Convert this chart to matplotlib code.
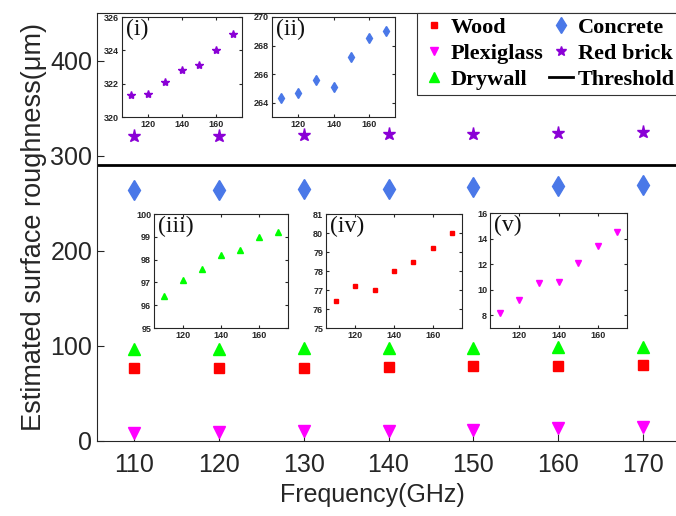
import matplotlib
matplotlib.use("Agg")
import matplotlib.pyplot as plt
import numpy as np

freq = [110, 120, 130, 140, 150, 160, 170]
wood = [76.4, 77.2, 77.0, 78.0, 78.5, 79.2, 80.0]
plexiglass = [8.2, 9.2, 10.5, 10.6, 12.1, 13.4, 14.5]
drywall = [96.4, 97.1, 97.6, 98.2, 98.4, 99.0, 99.2]
concrete = [264.3, 264.7, 265.6, 265.1, 267.2, 268.5, 269.0]
red_brick = [321.3, 321.4, 322.1, 322.8, 323.1, 324.0, 325.0]
threshold = 290

C_WOOD = (1, 0, 0)
C_PLEX = (1, 0, 1)
C_DRY = (0, 1, 0)
C_CON = "#4A78E8"
C_BRICK = "#8A00D6"

plt.rcParams['font.family'] = ['Liberation Sans', 'DejaVu Sans']

fig = plt.figure(figsize=(6.76, 5.16), dpi=100)
W, H = 676, 516

def px_axes(x0, y0, x1, y1):
    return fig.add_axes([x0 / W, (H - y1) / H, (x1 - x0) / W, (y1 - y0) / H])

AX_BOX = (97, 13, 680, 441)
ax = px_axes(*AX_BOX)
ax.set_xlim(105.6, 174.4)
ax.set_ylim(0, 450.5)

h_wood, = ax.plot(freq, wood, 's', color=C_WOOD, ms=6.5, ls='none', label='Wood')
h_plex, = ax.plot(freq, plexiglass, 'v', color=C_PLEX, ms=8.5, ls='none', label='Plexiglass')
h_dry, = ax.plot(freq, drywall, '^', color=C_DRY, ms=9, ls='none', label='Drywall')
h_con, = ax.plot(freq, concrete, 'd', color=C_CON, ms=10.5, ls='none', label='Concrete')
h_brick, = ax.plot(freq, red_brick, '*', color=C_BRICK, ms=9.5, ls='none', label='Red brick')
h_thr = ax.axhline(threshold, color='black', lw=2, label='Threshold')

ax.set_xticks(freq)
ax.set_yticks([0, 100, 200, 300, 400])
ax.tick_params(direction='in', labelsize=18, length=5, colors='#262626', labelcolor='#262626')
ax.tick_params(axis='x', pad=9)
for s in ax.spines.values():
    s.set_color('#262626')
ax.set_xlabel('Frequency(GHz)', fontsize=18, color='#262626')
ax.set_ylabel('Estimated surface roughness(\u03bcm)', fontsize=19.5, color='#262626', labelpad=2)
axw = AX_BOX[2] - AX_BOX[0]
axh = AX_BOX[3] - AX_BOX[1]
ax.xaxis.set_label_coords((372 - AX_BOX[0]) / axw, -(495 - AX_BOX[3]) / axh)
ax.xaxis.label.set_va('center')

leg = fig.legend([h_wood, h_plex, h_dry, h_con, h_brick, h_thr],
                 ['Wood', 'Plexiglass', 'Drywall', 'Concrete', 'Red brick', 'Threshold'],
                 loc='upper left', bbox_to_anchor=(417 / W, (H - 13) / H), ncol=2,
                 borderaxespad=0,
                 prop={'family': 'Liberation Serif', 'weight': 'bold', 'size': 16},
                 fancybox=False, framealpha=1, edgecolor='#333333', borderpad=0.2,
                 labelspacing=0.25, handlelength=1.1, handletextpad=0.2, columnspacing=0.25,
                 markerscale=0.75)
leg.get_frame().set_linewidth(0.8)

insets = [
    ((122, 17, 242, 117), red_brick, '*', C_BRICK, 6, (320, 326), [320, 322, 324, 326], '(i)'),
    ((272, 17, 395, 117), concrete, 'd', C_CON, 5, (263, 270), [264, 266, 268, 270], '(ii)'),
    ((154, 214, 288, 328), drywall, '^', C_DRY, 4.5, (95, 100), [95, 96, 97, 98, 99, 100], '(iii)'),
    ((326, 214, 462, 328), wood, 's', C_WOOD, 3.5, (75, 81), [75, 76, 77, 78, 79, 80, 81], '(iv)'),
    ((490, 213, 627, 328), plexiglass, 'v', C_PLEX, 4.5, (7, 16), [8, 10, 12, 14, 16], '(v)'),
]
for (box, data, m, c, ms, ylim, yt, lab) in insets:
    ia = px_axes(*box)
    ia.plot(freq, data, m, color=c, ms=ms, ls='none')
    ia.set_xlim(105, 175)
    ia.set_ylim(*ylim)
    ia.set_xticks([120, 140, 160])
    ia.set_yticks(yt)
    ia.tick_params(direction='in', labelsize=6.5, length=2.5, top=True, right=True, pad=2,
                   colors='#262626', labelcolor='#262626')
    for t in ia.get_xticklabels() + ia.get_yticklabels():
        t.set_fontweight('bold')
    for s in ia.spines.values():
        s.set_color('#262626')
    ia.text(0.03, 0.98, lab, transform=ia.transAxes, ha='left', va='top',
            family='Liberation Serif', fontsize=17, color='#111111')

fig.savefig('out.png', dpi=100)
